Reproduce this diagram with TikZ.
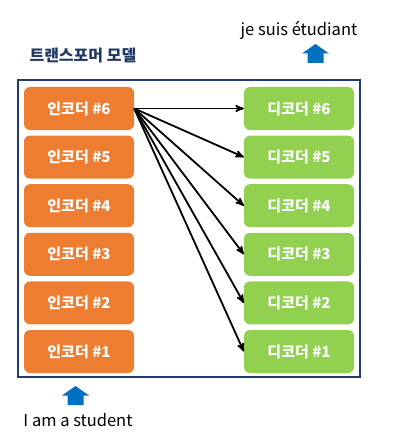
\documentclass[tikz,border=0pt]{standalone}
\usepackage{fontspec}
\setmainfont{Noto Sans CJK KR}
\usetikzlibrary{arrows,positioning}

\definecolor{encorange}{HTML}{ED7D31}
\definecolor{decgreen}{HTML}{92D050}
\definecolor{framenavy}{HTML}{1F3A6E}
\definecolor{titlenavy}{HTML}{203864}
\definecolor{ioblue}{HTML}{0070C0}

\tikzset{
  enc/.style={fill=encorange, text=white, font=\bfseries\fontsize{15}{17}\selectfont,
    rounded corners=6pt, minimum width=110pt, minimum height=43pt, inner sep=0pt},
  dec/.style={enc, fill=decgreen},
  blockup/.pic={\fill[ioblue] (-8,19) -- (-8,9.5) -- (-13.5,9.5) -- (0,0)
    -- (13.5,9.5) -- (8,9.5) -- (8,19) -- cycle;},
  plain/.style={font=\fontsize{16.5}{19}\selectfont, inner sep=0pt}
}

\begin{document}
\begin{tikzpicture}[x=1pt,y=-1pt,>=stealth',node distance=5.2pt]
  \useasboundingbox (0,0) rectangle (404,441);
  \draw[framenavy, line width=2pt] (18,80) rectangle (360,377);

  \node[anchor=west, text=titlenavy, font=\bfseries\fontsize{16}{18}\selectfont] (title) at (26,56) {트랜스포머 모델};

  \node[enc] (enc6) at (79,108.5)      {인코더 \#6};
  \node[enc] (enc5) [below=of enc6]    {인코더 \#5};
  \node[enc] (enc4) [below=of enc5]    {인코더 \#4};
  \node[enc] (enc3) [below=of enc4]    {인코더 \#3};
  \node[enc] (enc2) [below=of enc3]    {인코더 \#2};
  \node[enc] (enc1) [below=of enc2]    {인코더 \#1};

  \node[dec] (dec6) at (299,108.5)     {디코더 \#6};
  \node[dec] (dec5) [below=of dec6]    {디코더 \#5};
  \node[dec] (dec4) [below=of dec5]    {디코더 \#4};
  \node[dec] (dec3) [below=of dec4]    {디코더 \#3};
  \node[dec] (dec2) [below=of dec3]    {디코더 \#2};
  \node[dec] (dec1) [below=of dec2]    {디코더 \#1};

  \node[plain] (output) at (299,30)    {je suis étudiant};
  \pic (outarrow) at (315.5,44) {blockup};
  \pic (inarrow) at (75.5,386) {blockup};
  \node[plain] (input) at (78,420)     {I am a student};

  \path[->, line width=1.8pt]
  (enc6.east)
  edge (dec6.west)
  edge (dec5.west)
  edge (dec4.west)
  edge (dec3.west)
  edge (dec2.west)
  edge (dec1.west)
;
\end{tikzpicture}
\end{document}
